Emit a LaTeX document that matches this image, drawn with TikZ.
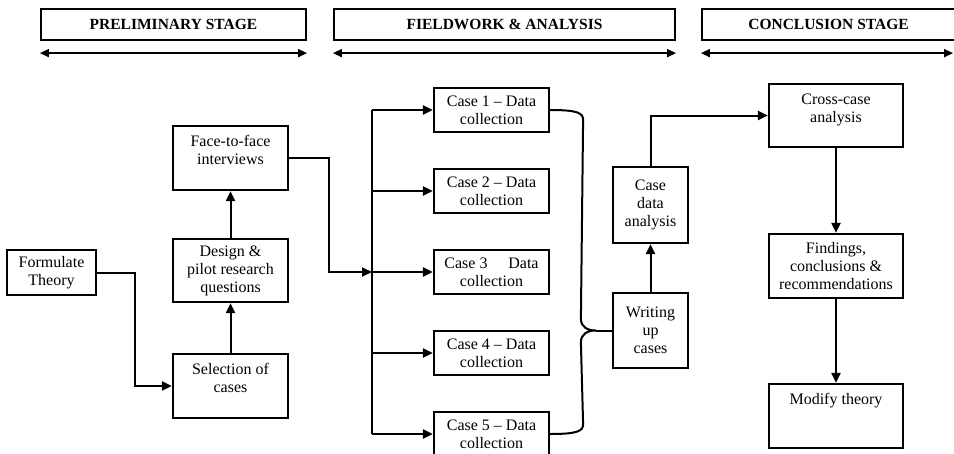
\documentclass[tikz,border=0pt]{standalone}
\usepackage{fontspec}
\setmainfont{Liberation Serif}
\usetikzlibrary{arrows.meta,calc}
\newcommand{\tp}[3]{\parbox[c][#2][t]{#1}{\centering\rule{0pt}{20pt}#3}}
\begin{document}
\begin{tikzpicture}[x=1pt,y=-1pt,
 box/.style={draw,line width=2.2pt,inner sep=0pt,align=center,font=\fontsize{16}{18}\selectfont},
 hbox/.style={draw,line width=2.2pt,inner sep=0pt,minimum height=31pt,font=\bfseries\fontsize{15.5}{17}\selectfont},
 conn/.style={line width=2pt},
 arr/.style={conn,-{Triangle[length=10pt,width=9pt]}},
 harr/.style={line width=1.5pt,{Triangle[length=9pt,width=8pt]}-{Triangle[length=9pt,width=8pt]}},
]
\useasboundingbox (0,0) rectangle (954,453);
% headers
\node[hbox,minimum width=265pt] (h1) at (173.5,24.5) {PRELIMINARY STAGE};
\node[hbox,minimum width=341pt] (h2) at (504.5,24.5) {FIELDWORK \& ANALYSIS};
\node[hbox,minimum width=253pt] (h3) at (828.5,24.5) {CONCLUSION STAGE};
\draw[harr] ([yshift=-12pt]h1.south west) -- ([yshift=-12pt]h1.south east);
\draw[harr] ([yshift=-12pt]h2.south west) -- ([yshift=-12pt]h2.south east);
\draw[harr] ([yshift=-12pt]h3.south west) -- ([xshift=-3pt,yshift=-12pt]h3.south east);
% preliminary
\node[box,minimum width=89pt,minimum height=45pt] (formulate) at (51.5,272.5) {Formulate\\Theory};
\node[box,minimum width=115pt,minimum height=63pt] (design) at (230.5,270.5) {Design \&\\pilot research\\questions};
\node[box] (face) at (230.5,158) {\tp{115pt}{64pt}{Face-to-face\\interviews}};
\node[box] (select) at (230.5,386) {\tp{115pt}{64pt}{Selection of\\cases}};
% cases
\node[box,minimum width=115pt,minimum height=44pt] (c1) at (491.5,110) {Case 1 -- Data\\collection};
\node[box,minimum width=115pt,minimum height=44pt] (c2) at (491.5,191) {Case 2 -- Data\\collection};
\node[box,minimum width=115pt,minimum height=44pt] (c3) at (491.5,272) {Case 3\hspace{1.3em}Data\\collection};
\node[box,minimum width=115pt,minimum height=44pt] (c4) at (491.5,353) {Case 4 -- Data\\collection};
\node[box,minimum width=115pt,minimum height=44pt] (c5) at (491.5,434) {Case 5 -- Data\\collection};
\node[box,minimum width=75pt,minimum height=75pt] (writing) at (650.5,330.5) {Writing\\up\\cases};
\node[box,minimum width=75pt,minimum height=76pt] (casedata) at (650.5,205) {Case\\data\\analysis};
% conclusion
\node[box] (cross) at (836,115.5) {\tp{134pt}{63pt}{Cross-case\\analysis}};
\node[box,minimum width=134pt,minimum height=64pt] (findings) at (836,266) {Findings,\\conclusions \&\\recommendations};
\node[box] (modify) at (836,416) {\tp{134pt}{64pt}{Modify theory}};
% connectors
\draw[arr] (formulate.east) -- ++(38,0) |- (select.west);
\draw[arr] (select.north) -- (design.south);
\draw[arr] (design.north) -- (face.south);
\coordinate (bus) at (372,272);
\draw[arr] (face.east) -- ++(40,0) |- (bus);
\draw[conn] (bus |- c1.west) -- (bus |- c5.west);
\foreach \c in {c1,c2,c3,c4,c5} \draw[arr] (bus |- \c.west) -- (\c.west);
\coordinate (tip) at ([xshift=-16pt]writing.west);
\draw[conn] (c1.east) .. controls ([xshift=28pt]c1.east) and ([xshift=33pt,yshift=-3pt]c1.east) .. ([xshift=33pt,yshift=-10pt]c1.east)
  -- ([xshift=-31pt,yshift=12pt]writing.west) .. controls ([xshift=-31pt,yshift=3pt]writing.west) and ([xshift=-24pt]writing.west) .. (tip)
  .. controls ([xshift=-24pt]writing.west) and ([xshift=-31pt,yshift=-3pt]writing.west) .. ([xshift=-31pt,yshift=-12pt]writing.west)
  -- ([xshift=33pt,yshift=10pt]c5.east) .. controls ([xshift=33pt,yshift=3pt]c5.east) and ([xshift=28pt]c5.east) .. (c5.east);
\draw[conn] (tip) -- (writing.west);
\draw[arr] (writing.north) -- (casedata.south);
\draw[arr] (casedata.north) |- (cross.west);
\draw[arr] (cross.south) -- (findings.north);
\draw[arr] (findings.south) -- (modify.north);
\end{tikzpicture}
\end{document}
